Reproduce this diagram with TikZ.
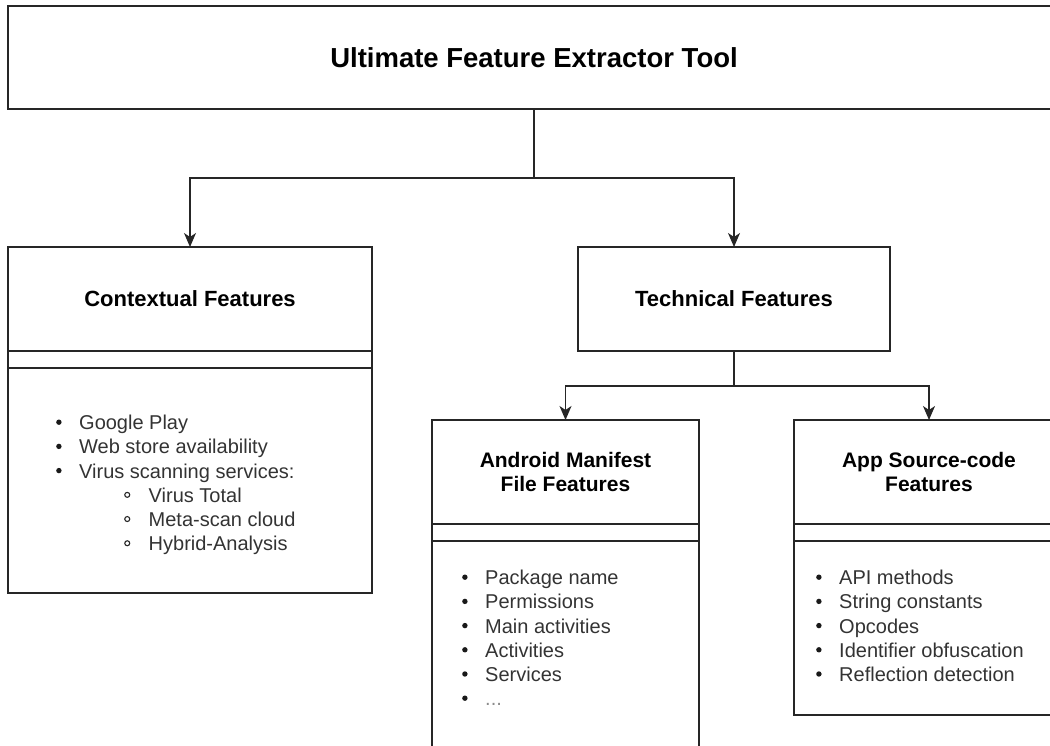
\documentclass[tikz,border=0pt]{standalone}
\usepackage{fontspec}
\setmainfont{Liberation Sans}
\usetikzlibrary{positioning,arrows.meta}

\newcommand{\itm}[1]{\makebox[24pt][l]{\hspace*{1pt}\raisebox{0.24em}{\tikz\fill[black!90] (0,0) circle (2.7pt);}}#1}
\newcommand{\subitm}[1]{\hspace*{69pt}\makebox[24.5pt][l]{\raisebox{0.22em}{\tikz\draw[black!85, line width=1.1pt] (0,0) circle (2.5pt);}}#1}

\begin{document}
\begin{tikzpicture}[x=1pt, y=-1pt,
    box/.style={draw=black!85, line width=1.3pt, outer sep=0pt, inner sep=0pt, align=center},
    head/.style={box, minimum height=104pt, font=\fontsize{22}{26}\selectfont\bfseries},
    subhead/.style={box, minimum height=104pt, font=\fontsize{21}{24}\selectfont\bfseries},
    gap/.style={box, minimum height=17pt},
    items/.style={anchor=north west, inner sep=0pt, align=left, text=black!80, font=\fontsize{20}{24.2}\selectfont},
    link/.style={draw=black!85, line width=1.3pt},
    arrow/.style={link, -{Stealth[length=14pt, width=12pt, inset=4pt]}}]

    \useasboundingbox (0,0) rectangle (1050,746);
    \clip (0,0) rectangle (1050,746);

    % tool
    \node[box, minimum width=1052pt, minimum height=103pt, font=\fontsize{27.5}{32}\selectfont\bfseries] (tool) at (534,57.5) {Ultimate Feature Extractor Tool};

    % contextual features
    \node[head, minimum width=364pt] (ctx) at (190,299) {Contextual Features};
    \node[gap, minimum width=364pt, below=0pt of ctx] (ctxgap) {};
    \node[box, minimum width=364pt, minimum height=225pt, below=0pt of ctxgap] (ctxbody) {};
    \node[items] (ctxlist) at (55,415) {\itm{Google Play}\\
        \itm{Web store availability}\\
        \itm{Virus scanning services:}\\
        \subitm{Virus Total}\\
        \subitm{Meta-scan cloud}\\
        \subitm{Hybrid-Analysis}};

    % technical features
    \node[head, minimum width=312pt] (tech) at (734,299) {Technical Features};

    \node[subhead, minimum width=267pt] (mani) at (565.5,472) {Android Manifest\\File Features};
    \node[gap, minimum width=267pt, below=0pt of mani] (manigap) {};
    \node[box, minimum width=267pt, minimum height=230pt, below=0pt of manigap] (manibody) {};
    \node[items] (manilist) at (461,570) {\itm{Package name}\\
        \itm{Permissions}\\
        \itm{Main activities}\\
        \itm{Activities}\\
        \itm{Services}\\
        \itm{\textcolor{black!45}{...}}};

    \node[subhead, minimum width=270pt] (src) at (929,472) {App Source-code\\Features};
    \node[gap, minimum width=270pt, below=0pt of src] (srcgap) {};
    \node[box, minimum width=270pt, minimum height=174pt, below=0pt of srcgap] (srcbody) {};
    \node[items] (srclist) at (815,570) {\itm{API methods}\\
        \itm{String constants}\\
        \itm{Opcodes}\\
        \itm{Identifier obfuscation}\\
        \itm{Reflection detection}};

    % connectors
    \draw[link] (tool.south) -- ++(0,69) coordinate (toolfork);
    \draw[arrow] (toolfork) -| (ctx.north);
    \draw[arrow] (toolfork) -| (tech.north);
    \draw[link] (tech.south) -- ++(0,35) coordinate (techfork);
    \draw[arrow] (techfork) -| (mani.north);
    \draw[arrow] (techfork) -| (src.north);
\end{tikzpicture}
\end{document}
